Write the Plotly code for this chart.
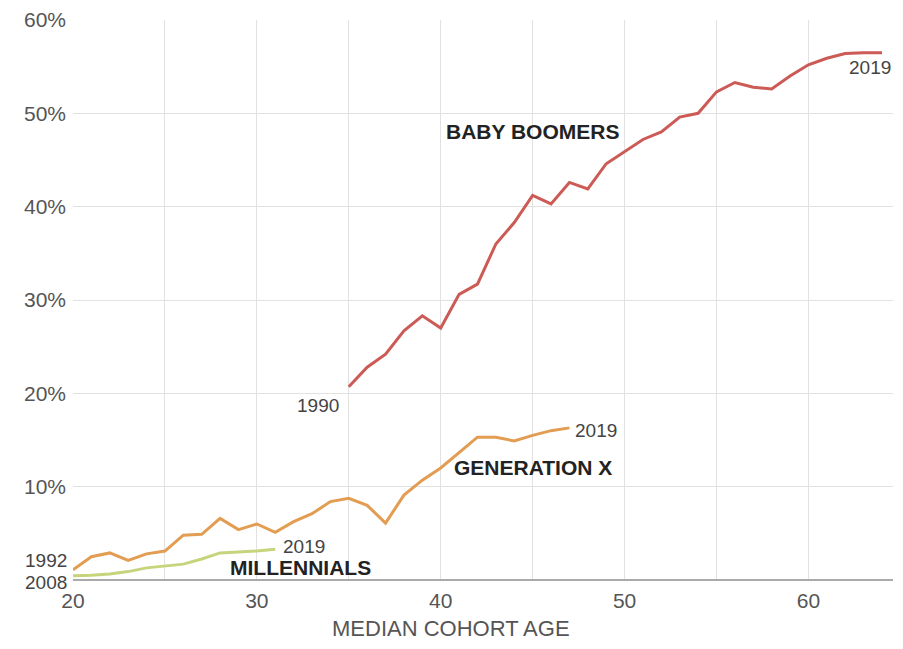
import plotly.graph_objects as go

boomer_age = list(range(35, 65))
boomer_pct = [20.7, 22.8, 24.2, 26.7, 28.3, 27.0, 30.6, 31.7, 36.0, 38.3,
              41.2, 40.3, 42.6, 41.9, 44.6, 45.9, 47.2, 48.0, 49.6, 50.0,
              52.3, 53.3, 52.8, 52.6, 54.0, 55.2, 55.9, 56.4, 56.5, 56.5]

genx_age = list(range(20, 48))
genx_pct = [1.1, 2.5, 2.9, 2.1, 2.8, 3.1, 4.8, 4.9, 6.6, 5.4,
            6.0, 5.1, 6.25, 7.1, 8.4, 8.75, 8.0, 6.1, 9.1, 10.7,
            12.0, 13.7, 15.3, 15.3, 14.9, 15.5, 16.0, 16.3]

mill_age = list(range(20, 32))
mill_pct = [0.45, 0.5, 0.65, 0.9, 1.3, 1.5, 1.7, 2.25, 2.9, 3.0, 3.1, 3.3]

x_ticks = [20, 30, 40, 50, 60]
y_ticks = [10, 20, 30, 40, 50, 60]
y_tick_labels = ["10%", "20%", "30%", "40%", "50%", "60%"]

C_BOOM = "#cc5a55"
C_GENX = "#e39d52"
C_MILL = "#c8d47c"

fig = go.Figure()
fig.add_trace(go.Scatter(x=mill_age, y=mill_pct, mode="lines",
                         line=dict(color=C_MILL, width=3), cliponaxis=False))
fig.add_trace(go.Scatter(x=genx_age, y=genx_pct, mode="lines",
                         line=dict(color=C_GENX, width=3), cliponaxis=False))
fig.add_trace(go.Scatter(x=boomer_age, y=boomer_pct, mode="lines",
                         line=dict(color=C_BOOM, width=3), cliponaxis=False))

lab = dict(family="Liberation Sans", size=19, color="#444")
bold = dict(family="Liberation Sans", size=21, color="#222")

ann = [
    dict(x=45, y=48.1, text="<b>BABY BOOMERS</b>", font=bold, xanchor="center", yanchor="middle"),
    dict(x=45, y=12.1, text="<b>GENERATION X</b>", font=bold, xanchor="center", yanchor="middle"),
    dict(x=32.35, y=1.3, text="<b>MILLENNIALS</b>", font=bold, xanchor="center", yanchor="middle"),
    dict(x=34.6, y=18.7, text="1990", font=lab, xanchor="right", yanchor="middle"),
    dict(x=64.6, y=54.9, text="2019", font=lab, xanchor="right", yanchor="middle"),
    dict(x=47.2, y=16.0, text="2019", font=lab, xanchor="left", yanchor="middle"),
    dict(x=31.3, y=3.6, text="2019", font=lab, xanchor="left", yanchor="middle"),
]
for a in ann:
    a.update(xref="x", yref="y", showarrow=False)
ann += [
    dict(xref="paper", yref="paper", x=0, y=0.034, xshift=-4, text="1992", font=lab,
         xanchor="right", yanchor="middle", showarrow=False),
    dict(xref="paper", yref="paper", x=0, y=-0.005, xshift=-4, text="2008", font=lab,
         xanchor="right", yanchor="middle", showarrow=False),
    dict(xref="paper", yref="paper", x=0.461, y=0, yshift=-48, text="MEDIAN COHORT AGE",
         font=dict(family="Liberation Sans", size=22, color="#555"),
         xanchor="center", yanchor="middle", showarrow=False),
]

fig.update_layout(
    width=887, height=633,
    margin=dict(l=65, r=2, t=12, b=61),
    plot_bgcolor="white", paper_bgcolor="white",
    showlegend=False,
    annotations=ann,
    xaxis=dict(range=[20, 64.6], tickvals=x_ticks, ticktext=[str(v) for v in x_ticks],
               showgrid=True, gridcolor="#e2e2e2", gridwidth=1,
               minor=dict(dtick=5, tick0=20, showgrid=True, gridcolor="#e2e2e2"),
               zeroline=False, showline=False, automargin=False,
               ticklabelstandoff=6, ticklabeloverflow="allow",
               tickfont=dict(family="Liberation Sans", size=21, color="#555")),
    yaxis=dict(range=[0, 60], tickvals=y_ticks, ticktext=y_tick_labels,
               showgrid=True, gridcolor="#e2e2e2", gridwidth=1,
               zeroline=True, zerolinecolor="#aaaaaa", zerolinewidth=2,
               showline=False, ticklabelstandoff=6, automargin=False,
               ticklabeloverflow="allow",
               tickfont=dict(family="Liberation Sans", size=21, color="#555")),
)

fig.write_html("out.html")
